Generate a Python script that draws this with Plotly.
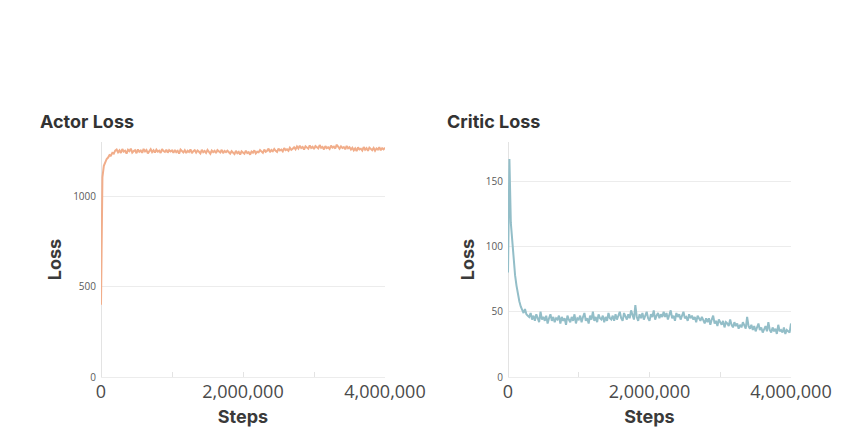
import plotly.graph_objects as go

STEP_INTERVAL = 20000  # logging interval of training steps

actor_loss = [
    400, 1105, 1168, 1190, 1206, 1214, 1228, 1225, 1240, 1236, 1252,
    1258, 1243, 1254, 1239, 1261, 1247, 1252, 1236, 1257, 1249,
    1263, 1241, 1250, 1255, 1238, 1259, 1246, 1253, 1240, 1262,
    1248, 1256, 1237, 1251, 1260, 1244, 1254, 1242, 1258, 1247,
    1252, 1239, 1261, 1250, 1245, 1257, 1241, 1255, 1248, 1253,
    1240, 1256, 1244, 1251, 1236, 1258, 1247, 1242, 1254, 1239,
    1252, 1245, 1259, 1238, 1249, 1255, 1241, 1253, 1246, 1237,
    1257, 1243, 1250, 1240, 1256, 1248, 1235, 1253, 1244, 1251,
    1239, 1255, 1246, 1242, 1257, 1238, 1250, 1244, 1252, 1241,
    1236, 1249, 1240, 1233, 1251, 1238, 1245, 1231, 1248, 1242,
    1235, 1252, 1239, 1244, 1230, 1247, 1241, 1254, 1237, 1246,
    1243, 1255, 1248, 1240, 1258, 1246, 1252, 1263, 1244, 1256,
    1249, 1261, 1251, 1245, 1264, 1253, 1258, 1248, 1266, 1255,
    1260, 1252, 1268, 1257, 1263,
    1271, 1260, 1275, 1264, 1279, 1266, 1272, 1258, 1276, 1269,
    1263, 1281, 1267, 1274, 1261, 1278, 1270, 1265, 1283, 1268,
    1273, 1259, 1277, 1266, 1271, 1262, 1280, 1269, 1274, 1264,
    1285, 1270, 1263, 1276, 1267, 1272, 1260, 1278, 1265, 1271,
    1258, 1268, 1254, 1265, 1250, 1270, 1259, 1263, 1253, 1272,
    1257, 1266, 1251, 1269, 1260, 1255, 1267, 1252, 1264, 1258,
    1271, 1254, 1266, 1259, 1268,
]

critic_loss = [
    80, 167, 118, 102, 88, 78, 70, 63, 58, 54, 51, 49, 52, 48, 47,
    46, 49, 44, 47, 43, 48, 45, 42, 50, 44,
    46, 43, 47, 41, 45, 48, 43, 46, 42, 45,
    44, 47, 41, 46, 43, 45, 40, 47, 44, 42,
    46, 43, 48, 41, 45, 44,
    47, 42, 46, 49, 43, 45, 41, 47, 44, 50,
    43, 46, 42, 48, 45, 44, 47, 42, 46, 43,
    49, 45, 44, 47, 43,
    48, 44, 47, 50, 45, 43, 49, 46, 44, 48,
    45, 51, 47, 44, 55, 46, 43, 48, 45, 49,
    44, 47, 50, 45, 43, 48, 46, 51, 44, 47,
    49, 45, 48, 46, 50,
    46, 49, 44, 48, 51, 45, 47, 43, 49, 46,
    48, 44, 47, 50, 45, 46, 43, 48, 45, 47,
    44, 46, 42, 47, 45, 43, 46, 44, 41, 45,
    42, 45, 40, 44, 47, 41, 43, 39, 44, 42,
    40, 43, 38, 42, 41, 39, 44, 40, 38, 42,
    39, 41, 37, 40, 38, 42, 39, 37, 46, 39,
    37, 40, 36, 39, 35, 38, 41, 36, 38, 34,
    37, 39, 35, 42, 36, 34, 38, 35, 37, 33,
    40, 35, 36, 34, 38, 33, 36, 35, 34, 41,
]

steps = [i * STEP_INTERVAL for i in range(len(actor_loss))]

x_tickvals = [0, 1000000, 2000000, 3000000, 4000000]
x_ticktext = ["0", "", "2,000,000", "", "4,000,000"]
panel_titles = ["Actor Loss", "Critic Loss"]

W, H = 841, 435
TITLE_FONT = "Inter"
TICK_FONT = "Open Sans"
GRID = "#ececec"

fig = go.Figure()
fig.add_trace(go.Scatter(x=steps, y=actor_loss, mode="lines",
                         line=dict(color="#f1ad8a", width=2),
                         xaxis="x", yaxis="y", showlegend=False))
fig.add_trace(go.Scatter(x=steps, y=critic_loss, mode="lines",
                         line=dict(color="#93bec8", width=2),
                         xaxis="x2", yaxis="y2", showlegend=False))

def xaxis_cfg(domain, anchor):
    return dict(
        domain=domain, anchor=anchor, range=[0, 4000000],
        tickvals=x_tickvals, ticktext=x_ticktext,
        ticks="inside", ticklen=5, tickcolor="#e3e3e3", tickwidth=1,
        showgrid=False, zeroline=True, zerolinecolor="#e3e3e3", zerolinewidth=1,
        showline=False, automargin=False, ticklabelstandoff=2,
        tickfont=dict(family=TICK_FONT, size=18, color="#4a4a4a"),
        title=dict(text="<b>Steps</b>", standoff=8,
                   font=dict(family=TITLE_FONT, size=18, color="#3a3a3a")),
    )

def yaxis_cfg(domain, anchor, rng, dtick):
    return dict(
        domain=domain, anchor=anchor, range=rng, dtick=dtick,
        showgrid=True, gridcolor=GRID, gridwidth=1,
        zeroline=True, zerolinecolor=GRID, zerolinewidth=1,
        showline=False, ticks="", automargin=False, ticklabelstandoff=4,
        tickfont=dict(family=TICK_FONT, size=10, color="#5a5a5a"),
        title=dict(text="<b>Loss</b>", standoff=6,
                   font=dict(family=TITLE_FONT, size=18, color="#3a3a3a")),
    )

ydom = [58 / H, 293 / H]
fig.update_layout(
    width=W, height=H,
    margin=dict(l=0, r=0, t=0, b=0),
    paper_bgcolor="white", plot_bgcolor="white",
    xaxis=xaxis_cfg([101 / W, 385 / W], "y"),
    yaxis=yaxis_cfg(ydom, "x", [0, 1300], 500),
    xaxis2=xaxis_cfg([508 / W, 791 / W], "y2"),
    yaxis2=yaxis_cfg(ydom, "x2", [0, 180], 50),
    annotations=[
        dict(text=f"<b>{panel_titles[0]}</b>", x=38 / W, y=1 - 121 / H,
             xref="paper", yref="paper", xanchor="left", yanchor="middle",
             showarrow=False, font=dict(family=TITLE_FONT, size=18, color="#333333")),
        dict(text=f"<b>{panel_titles[1]}</b>", x=445 / W, y=1 - 121 / H,
             xref="paper", yref="paper", xanchor="left", yanchor="middle",
             showarrow=False, font=dict(family=TITLE_FONT, size=18, color="#333333")),
    ],
)

fig.write_html("out.html")
